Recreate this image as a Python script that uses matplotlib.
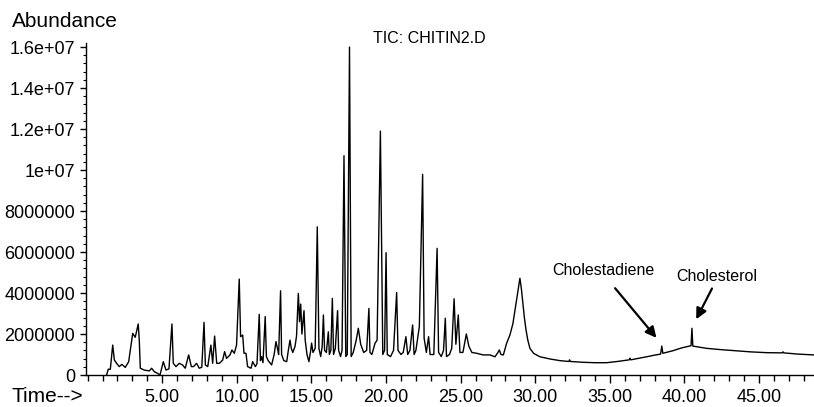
import numpy as np
import matplotlib.pyplot as plt
from matplotlib.ticker import MultipleLocator

plt.rcParams['font.family'] = ['Liberation Sans', 'DejaVu Sans']

# Retention time (min) and abundance (millions)
time_min = [
    1.27, 1.38, 1.52, 1.68, 1.79, 1.94, 2.12, 2.30, 2.52, 2.75, 3.02, 3.19, 3.39, 3.46,
    3.53, 3.80, 4.13, 4.29, 4.47, 4.69, 4.85, 5.07, 5.25, 5.45, 5.65, 5.74, 5.92, 6.14,
    6.36, 6.54, 6.77, 6.95, 7.10, 7.30, 7.48, 7.65, 7.80, 7.89, 8.05, 8.26, 8.38, 8.51,
    8.65, 8.83, 9.05, 9.18, 9.31, 9.54, 9.67, 9.83, 9.98, 10.16, 10.25, 10.39, 10.48,
    10.61, 10.72, 10.95, 11.06, 11.24, 11.35, 11.50, 11.58, 11.66, 11.75, 11.90, 11.98,
    12.10, 12.33, 12.50, 12.62, 12.72, 12.80, 12.93, 13.00, 13.15, 13.34, 13.45, 13.56,
    13.65, 13.75, 13.90, 14.00, 14.12, 14.20, 14.28, 14.36, 14.50, 14.58, 14.70, 14.83,
    14.95, 15.01, 15.10, 15.25, 15.39, 15.50, 15.62, 15.72, 15.80, 15.88, 16.00, 16.13,
    16.20, 16.30, 16.40, 16.48, 16.60, 16.75, 16.82, 16.95, 17.05, 17.18, 17.30, 17.40,
    17.55, 17.66, 17.80, 18.00, 18.14, 18.30, 18.50, 18.70, 18.85, 18.92, 19.05, 19.26,
    19.40, 19.62, 19.78, 19.90, 20.00, 20.08, 20.30, 20.50, 20.71, 20.80, 21.00, 21.15,
    21.33, 21.45, 21.60, 21.78, 21.88, 22.00, 22.23, 22.45, 22.55, 22.70, 22.85, 22.95,
    23.20, 23.42, 23.52, 23.70, 23.85, 23.97, 24.05, 24.25, 24.40, 24.56, 24.68, 24.84,
    24.95, 25.15, 25.38, 25.55, 25.75, 26.07, 26.50, 26.96, 27.30, 27.50, 27.59, 27.70,
    27.86, 28.08, 28.30, 28.50, 28.64, 28.80, 28.97, 29.07, 29.15, 29.27, 29.38, 29.50,
    29.64, 29.90, 30.31, 31.00, 31.66, 32.25, 32.30, 32.35, 33.22, 34.00, 34.78, 35.50,
    36.30, 36.35, 36.40, 37.47, 38.00, 38.40, 38.48, 38.55, 39.25, 39.80, 40.15, 40.44,
    40.50, 40.56, 41.00, 41.49, 42.40, 43.27, 44.40, 45.50, 46.55, 46.60, 46.65, 47.60,
    48.68,
]
abundance_m = [
    0.00, 0.28, 0.28, 1.46, 0.73, 0.57, 0.41, 0.52, 0.37, 0.65, 2.03, 1.84, 2.49, 1.70,
    0.33, 0.24, 0.20, 0.33, 0.16, 0.08, 0.00, 0.65, 0.24, 0.30, 2.49, 0.57, 0.41, 0.57,
    0.49, 0.33, 0.98, 0.41, 0.41, 0.57, 0.33, 0.38, 2.57, 0.49, 0.41, 1.46, 0.57, 1.90,
    0.57, 0.57, 0.73, 1.14, 0.81, 0.98, 1.22, 1.06, 1.46, 4.68, 1.87, 1.95, 1.06,
    1.06, 0.41, 0.33, 0.65, 0.41, 0.55, 2.96, 0.70, 0.89, 0.60, 2.85, 0.90,
    0.70, 0.49, 1.00, 1.63, 1.30, 1.00, 4.11, 1.00, 0.70, 0.65, 1.20, 1.70,
    1.30, 1.10, 1.40, 1.90, 3.98, 2.60, 3.46, 2.00, 3.14, 1.70, 1.00, 0.65,
    1.20, 1.56, 1.10, 1.30, 7.23, 1.30, 0.90, 1.40, 2.93, 1.20, 1.10, 2.11,
    1.00, 1.20, 3.74, 1.00, 1.30, 3.14, 1.20, 0.90, 1.20, 10.70, 0.90, 1.00,
    16.00, 0.90, 1.10, 1.70, 2.28, 1.50, 1.10, 1.20, 3.25, 1.10, 1.00, 1.55,
    1.70, 11.90, 1.00, 1.20, 5.97, 1.00, 0.90, 1.20, 4.03, 1.20, 1.00, 1.10,
    1.87, 1.00, 1.20, 2.44, 1.00, 1.20, 2.36, 9.79, 1.80, 1.10, 1.87, 1.00,
    1.00, 6.18, 1.10, 0.90, 1.20, 2.77, 0.90, 1.00, 1.30, 3.72, 1.50, 2.93,
    1.10, 1.10, 2.00, 1.40, 1.10, 1.06, 0.98, 0.98, 0.89, 1.10, 1.22, 1.00,
    0.98, 1.55, 1.95, 2.50, 3.17, 3.90, 4.72, 4.20, 3.66, 2.80, 2.20, 1.70,
    1.30, 1.05, 0.89, 0.78, 0.70, 0.66, 0.74, 0.66, 0.62, 0.60, 0.60, 0.66,
    0.74, 0.82, 0.74, 0.89, 0.97, 1.02, 1.41, 1.06, 1.19, 1.32, 1.38, 1.43,
    2.28, 1.41, 1.36, 1.30, 1.24, 1.19, 1.13, 1.09, 1.08, 1.13, 1.08, 1.02,
    0.98,
]

y_ticks = [0, 2e6, 4e6, 6e6, 8e6, 1e7, 1.2e7, 1.4e7, 1.6e7]
y_tick_labels = ['0', '2000000', '4000000', '6000000', '8000000',
                 '1e+07', '1.2e+07', '1.4e+07', '1.6e+07']
x_ticks = [5, 10, 15, 20, 25, 30, 35, 40, 45]
x_tick_labels = ['5.00', '10.00', '15.00', '20.00', '25.00',
                 '30.00', '35.00', '40.00', '45.00']

t = np.array(time_min)
a = np.array(abundance_m) * 1e6

fig = plt.figure(figsize=(8.14, 4.07), dpi=100)
ax = fig.add_axes([86 / 814, 32 / 407, 728 / 814, 332 / 407])

ax.plot(t, a, color='black', lw=1.0)

ax.set_xlim(-0.11, 48.68)
ax.set_ylim(0, 1.62e7)

for side in ['top', 'right']:
    ax.spines[side].set_visible(False)
ax.spines['left'].set_linewidth(1.0)
ax.spines['bottom'].set_linewidth(1.0)

ax.set_xticks(x_ticks)
ax.set_xticklabels(x_tick_labels, fontsize=13)
ax.xaxis.set_minor_locator(MultipleLocator(1))
ax.set_yticks(y_ticks)
ax.set_yticklabels(y_tick_labels, fontsize=13)
ax.yaxis.set_minor_locator(MultipleLocator(400000))
ax.tick_params(axis='x', which='major', length=6, width=1, pad=4, direction='out')
ax.tick_params(axis='x', which='minor', length=4, width=1, direction='out')
ax.tick_params(axis='y', which='major', length=4, width=1, pad=4, direction='out')
ax.tick_params(axis='y', which='minor', length=2.5, width=0.8, direction='out')

fig.text(12 / 814, 0.946, 'Abundance', fontsize=15, va='center', ha='left')
fig.text(12 / 814, 0.025, 'Time-->', fontsize=15, va='center', ha='left')
fig.text(0.527, 0.905, 'TIC: CHITIN2.D', fontsize=11.5, va='center', ha='center')

arrow = dict(arrowstyle='-|>', color='black', lw=1.6, mutation_scale=16)
ax.annotate('', xy=(38.24, 1.71e6), xytext=(35.23, 4.34e6), arrowprops=arrow)
ax.annotate('', xy=(40.7, 2.6e6), xytext=(41.93, 4.34e6), arrowprops=arrow)
ax.text(34.54, 5.12e6, 'Cholestadiene', fontsize=11.5, ha='center', va='center')
ax.text(42.16, 4.8e6, 'Cholesterol', fontsize=11.5, ha='center', va='center')

fig.savefig('out.png', dpi=100)
